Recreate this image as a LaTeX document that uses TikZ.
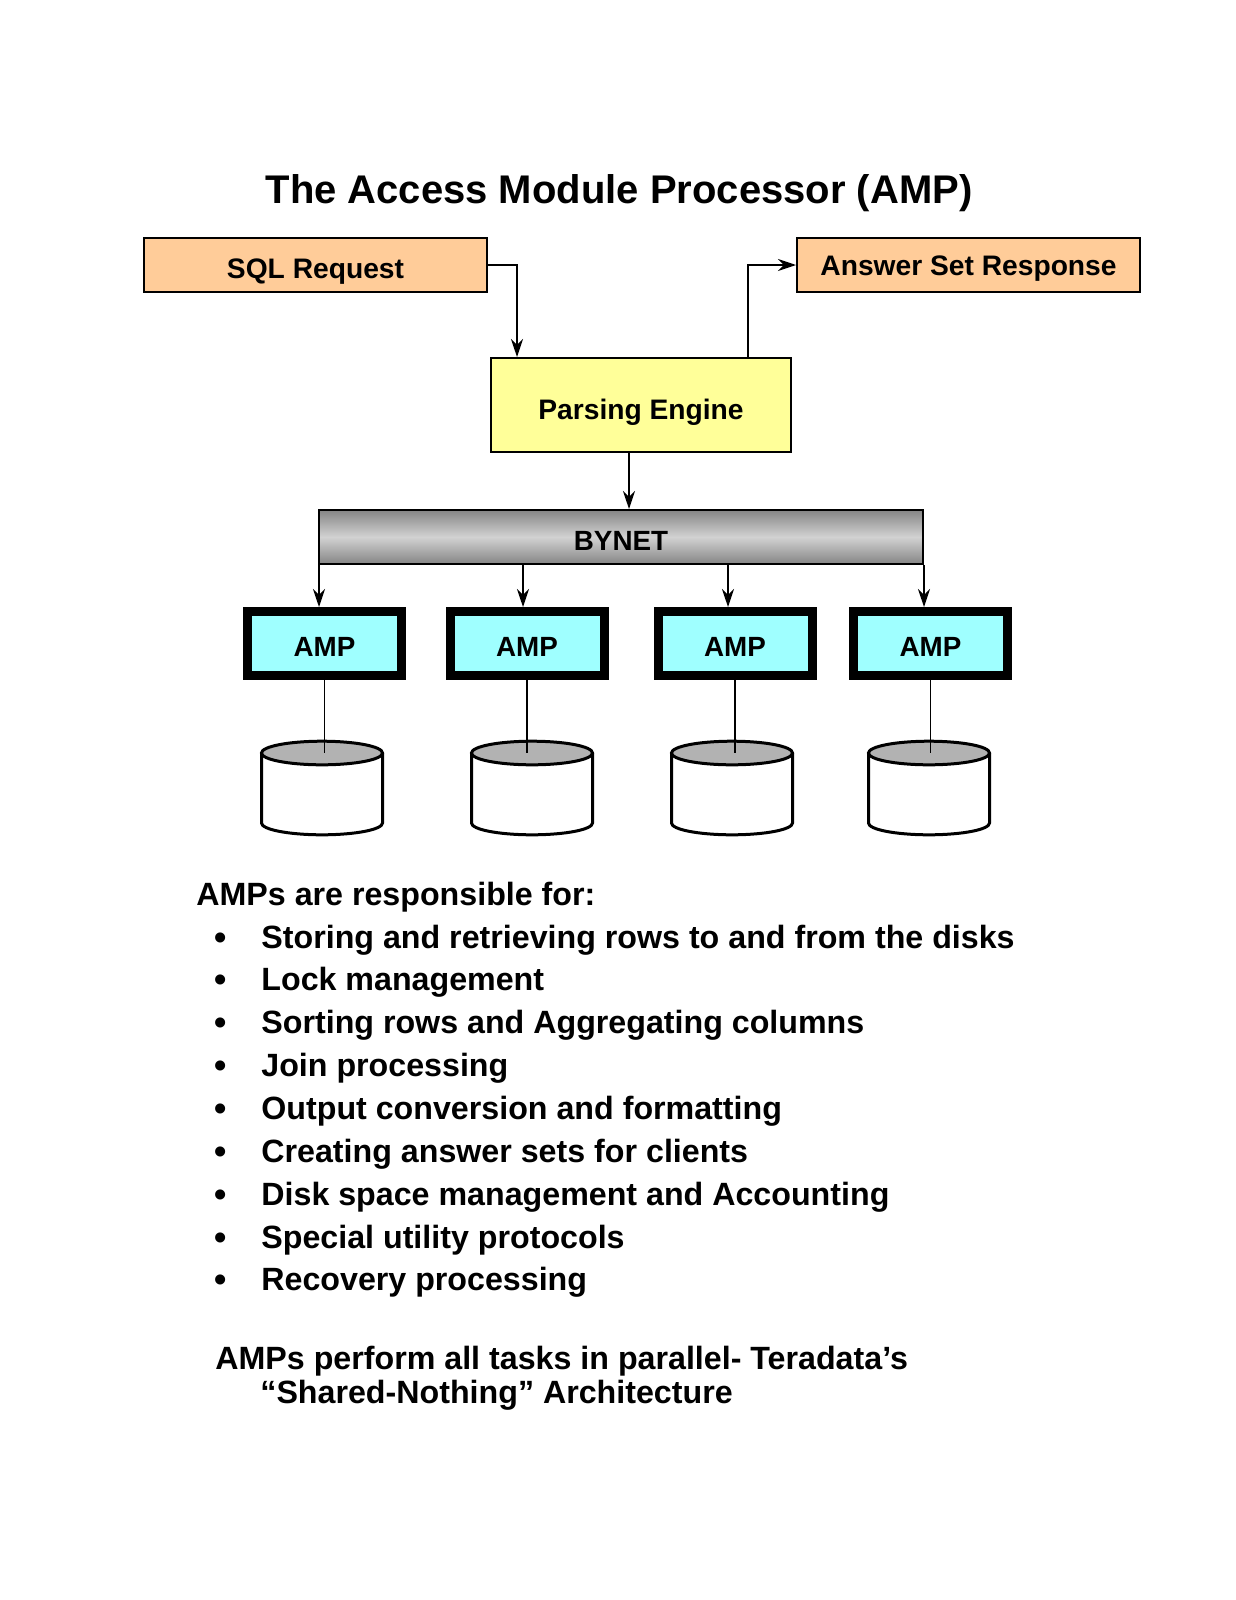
\documentclass[tikz,border=0pt]{standalone}
\usepackage{fontspec}
\setmainfont{Liberation Sans}
\usetikzlibrary{arrows.meta}
\definecolor{peach}{HTML}{FFCC99}
\definecolor{paleyellow}{HTML}{FFFF99}
\definecolor{ampcyan}{HTML}{9FFFFF}
\definecolor{diskgray}{HTML}{B2B2B2}
\definecolor{bardark}{HTML}{858585}
\definecolor{barlight}{HTML}{D2D2D2}
\newcommand{\mydisk}[2]{%
  \path[draw=black, fill=white, line width=1.5pt]
    (#1-60.5,753) -- (#1-60.5,823)
    arc[start angle=180, end angle=360, x radius=30.25pt, y radius=5.9pt]
    -- (#1+60.5,753);
  \draw[line width=1.5pt, fill=diskgray] (#1,753) ellipse [x radius=30.25pt, y radius=5.9pt];
  \coordinate (#2) at (#1,753);}
\begin{document}
\begin{tikzpicture}[x=0.5pt,y=-0.5pt,
  boxtext/.style={font=\bfseries\fontsize{14.1}{17}\selectfont, text height=10.1pt, text depth=0pt, inner sep=0pt},
  reqbox/.style={draw, line width=1pt, fill=peach, minimum width=171.5pt, minimum height=27pt, boxtext},
  pebox/.style={draw, line width=1pt, fill=paleyellow, minimum width=150pt, minimum height=47pt, boxtext, text height=14pt},
  netbar/.style={draw, line width=1pt, top color=bardark, bottom color=bardark, middle color=barlight,
     minimum width=302pt, minimum height=27pt, font=\bfseries\fontsize{13.9}{17}\selectfont, text height=13pt, text depth=0pt, inner sep=0pt},
  ampbox/.style={draw, line width=4.5pt, fill=ampcyan, minimum width=77pt, minimum height=32pt,
     font=\bfseries\fontsize{13.9}{17}\selectfont, text height=13pt, text depth=0pt, inner sep=0pt},
  arr/.style={-{Stealth[length=9pt,width=6pt,inset=3pt]}, line width=0.9pt},
  link/.style={line width=0.8pt},
  listtext/.style={font=\bfseries\fontsize{16.1}{19}\selectfont, anchor=base west, inner sep=0pt},
  bul/.style={font=\bfseries\fontsize{17.5}{19}\selectfont, anchor=base, inner sep=0pt}]
\useasboundingbox (0,0) rectangle (1236,1600);
\fill[white] (0,0) rectangle (1236,1600);

% title
\node[anchor=base, inner sep=0pt, font=\bfseries\fontsize{20}{24}\selectfont] (title) at (619,203)
  {The Access Module Processor (AMP)};

% top boxes
\node[reqbox, text height=13pt] (sql) at (315.5,265) {SQL Request};
\node[reqbox] (ans) at (968.5,265) {Answer Set Response};
\node[pebox] (pe) at (641,405) {Parsing Engine};

\coordinate (sqlx) at (517,0);
\coordinate (ansx) at (748,0);
\coordinate (pex) at (629,0);
\draw[arr] (sql.east) -| (sqlx |- pe.north);
\draw[arr] (ansx |- pe.north) |- (ans.west);

% BYNET
\node[netbar] (bynet) at (621,537) {BYNET};
\draw[arr] (pex |- pe.south) -- (pex |- bynet.north);

% AMPs
\node[ampbox] (amp1) at (324.5,643.5) {AMP};
\node[ampbox] (amp2) at (527,643.5) {AMP};
\node[ampbox] (amp3) at (735,643.5) {AMP};
\node[ampbox] (amp4) at (930.5,643.5) {AMP};

\coordinate (t1) at (319,0);
\coordinate (t2) at (523,0);
\coordinate (t3) at (728,0);
\coordinate (t4) at (924,0);
\draw[arr] (t1 |- bynet.south) -- (t1 |- amp1.north);
\draw[arr] (t2 |- bynet.south) -- (t2 |- amp2.north);
\draw[arr] (t3 |- bynet.south) -- (t3 |- amp3.north);
\draw[arr] (t4 |- bynet.south) -- (t4 |- amp4.north);

% disks
\mydisk{322}{d1}
\mydisk{532}{d2}
\mydisk{732}{d3}
\mydisk{929}{d4}
\draw[link] (amp1.south) -- (amp1.south |- d1);
\draw[link] (amp2.south) -- (amp2.south |- d2);
\draw[link] (amp3.south) -- (amp3.south |- d3);
\draw[link] (amp4.south) -- (amp4.south |- d4);

% text
\node[listtext] (head) at (196,905) {AMPs are responsible for:};
\foreach \t [count=\i] in {Storing and retrieving rows to and from the disks,
  Lock management, Sorting rows and Aggregating columns, Join processing,
  Output conversion and formatting, Creating answer sets for clients,
  Disk space management and Accounting, Special utility protocols, Recovery processing}{
  \node[bul] (bu\i) at (221,{949+(\i-1)*42.86}) {•};
  \node[listtext] (it\i) at (261,{948+(\i-1)*42.86}) {\t};
}
\node[listtext] (foot1) at (215,1369) {AMPs perform all tasks in parallel- Teradata’s};
\node[listtext] (foot2) at (260,1403) {“Shared-Nothing” Architecture};
\end{tikzpicture}
\end{document}
